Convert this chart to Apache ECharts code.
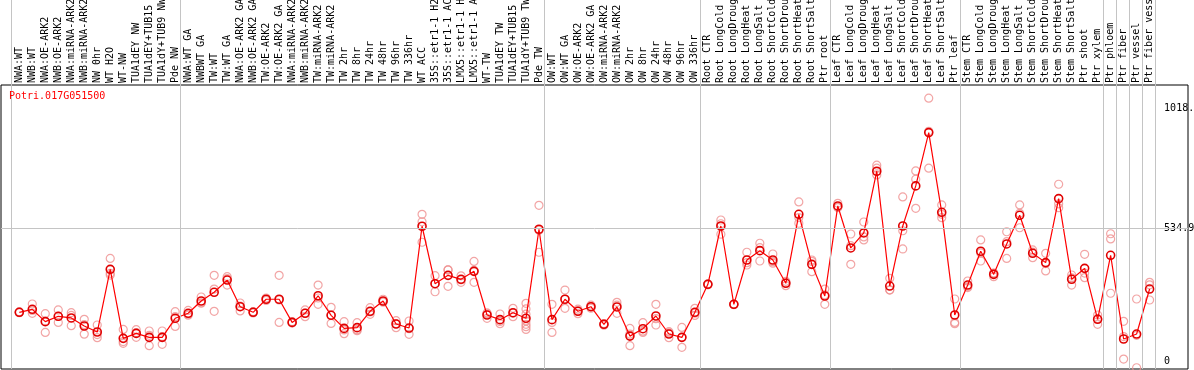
<!DOCTYPE html>
<html><head><meta charset="utf-8">
<script src="https://cdn.jsdelivr.net/npm/echarts@6/dist/echarts.min.js"></script>
<style>html,body{margin:0;padding:0;background:#fff}#c{width:1194px;height:370px}</style>
</head><body><div id="c"></div><script>
const chartTitle = 'Potri.017G051500';
const categories = [
 'NWA:WT','NWB:WT','NWA:OE-ARK2','NWB:OE-ARK2','NWA:miRNA-ARK2','NWB:miRNA-ARK2','NW 0hr','WT H2O','WT-NW','TUA1dEY NW','TUA1dEY+TUB15 NW','TUA1dY+TUB9 NW','Pde NW',
 'NWA:WT GA','NWBWT GA','TW:WT','TW:WT GA','NWA:OE-ARK2 GA','NWB:OE-ARK2 GA','TW:OE-ARK2','TW:OE-ARK2 GA','NWA:miRNA-ARK2','NWB:miRNA-ARK2','TW:miRNA-ARK2','TW:miRNA-ARK2',
 'TW 2hr','TW 8hr','TW 24hr','TW 48hr','TW 96hr','TW 336hr','WT ACC','35S::etr1-1 H2O','35S::etr1-1 ACC','LMX5::etr1-1 H2O','LMX5::etr1-1 ACC','WT-TW','TUA1dEY TW','TUA1dEY+TUB15 TW','TUA1dY+TUB9 TW','Pde TW',
 'OW:WT','OW:WT GA','OW:OE-ARK2','OW:OE-ARK2 GA','OW:miRNA-ARK2','OW:miRNA-ARK2','OW 2hr','OW 8hr','OW 24hr','OW 48hr','OW 96hr','OW 336hr',
 'Root CTR','Root LongCold','Root LongDrought','Root LongHeat','Root LongSalt','Root ShortCold','Root ShortDrought','Root ShortHeat','Root ShortSalt','Ptr root',
 'Leaf CTR','Leaf LongCold','Leaf LongDrought','Leaf LongHeat','Leaf LongSalt','Leaf ShortCold','Leaf ShortDrought','Leaf ShortHeat','Leaf ShortSalt','Ptr leaf',
 'Stem CTR','Stem LongCold','Stem LongDrought','Stem LongHeat','Stem LongSalt','Stem ShortCold','Stem ShortDrought','Stem ShortHeat','Stem ShortSalt','Ptr shoot','Ptr xylem',
 'Ptr phloem','Ptr fiber','Ptr vessel','Ptr fiber vessel'
];
const meanValues = [
 197.6,209.6,160,181.5,175,142.6,118.5,370,93,113,97,97,173.5,
 193.6,243,278,327,220,197.6,250,250,157,193.6,264,185.5,
 133,136,201.6,243,150.6,134.5,543,312.5,346,330,362,186.7,168,196,173.5,531,
 168,250,201.6,220,149.4,219,102,131.8,182.7,110.4,97,197.6,
 310,544,229.7,407.6,445,407.6,314,591,390,263,
 624.5,455.8,516,763.8,303,544,705,919,599,186.7,
 307,442.6,350,472,587,434.5,397,654,330,374,169.5,
 426.5,90.4,110.4,291
];
const replicateValues = [
 [196,198,199],[231,193.6,205],[192,117,162],[207,157,181],[196,144,185],[169.5,110,148],[146.6,95.6,108],[414,347,354],[129,73,80],[128,97,116],[122.5,63.5,105],[122.5,69,100],[200,141,180],
 [205,190,186],[259,236,234],[346,291,201.6],[340.6,307,333],[203,235,222],[200,195,198],[255,245,250],[346,157,247],[160,155,156],[207,180,194],[307,229.7,255],[217.6,153,186],
 [160,112,127],[156,124,128],[216,189.6,199],[250,238,241],[164,136,152],[162.6,109,132],[591,561,478.7],[344.6,280,313],[367.5,302,368],[344,318,328],[402,318,366],[173.5,195,191],[190.8,151.8,161],[213.6,180,194],[233.7,211,190,149.4,140,129,163],[627,438.6,527],
 [229.7,117,157],[287,213.6,250],[210,192,203],[226,214,220],[152,146,150],[237.7,193.6,226],[133,63.5,110],[156,117,122],[229.7,146.6,172],[120,95.6,115],[137,57,97],[213.6,185,194],
 [312,308,310],[568,511,553],[231,228,230],[438.6,387.5,397],[474.7,403.6,457],[431.7,395,401],[304.4,322,316],[640.6,555,578],[407.6,360.6,402],[291,229.7,268],
 [635,618,620],[512,390,465],[560,488,500],[788,776,749],[334,288,287],[660.6,525,451.8],[765,731.7,615],[1057,776,924],[628.5,577.5,591],[251,151.8,157],
 [323.3,297,301],[488,403.6,436],[340.6,355,354],[521,414,481],[628.5,537,595],[447.8,417,439],[434.5,363.5,393],[711.6,617.7,633],[347.4,307,336],[430.5,336.5,355],[186.7,149.4,172],
 [513,492,274],[161.4,10,100],[251,-25,105],[318,247,308]
];
const yTickValues = [0, 534.9, 1018];
const yTickLabels = ['0', '534.9', '1018.'];
const groupBoundaries = [0, 13, 41, 53, 63, 73, 84, 85, 86, 87, 88];
const gridLineValue = 534.9;
const yMin = -30, yMax = 1110;

const FONT = 'DejaVu Sans Mono';
const repData = [];
replicateValues.forEach((arr, i) => arr.forEach(v => repData.push([i, v])));

const chart = echarts.init(document.getElementById('c'), null, {renderer: 'canvas'});
chart.setOption({
  animation: false,
  backgroundColor: '#fff',
  title: {text: chartTitle, left: 4, top: 86, textStyle: {color: '#ff0000', fontSize: 10, fontFamily: FONT, fontWeight: 'normal'}},
  grid: [
    {left: 1, top: 85, width: 1187, height: 284, show: true, borderColor: '#000', borderWidth: 1, backgroundColor: 'transparent', outerBoundsMode: 'none', containLabel: false},
    {left: 12.8, top: 85, width: 1143.3, height: 284, outerBoundsMode: 'none', containLabel: false},
    {left: 10.9, top: 0, width: 1144.4, height: 369, outerBoundsMode: 'none', containLabel: false}
  ],
  xAxis: [
    {gridIndex: 0, type: 'value', min: 0, max: 1, show: false},
    {gridIndex: 1, type: 'category', position: 'top', data: categories, boundaryGap: true,
     axisLine: {show: false}, axisTick: {show: false}, splitLine: {show: false},
     axisLabel: {rotate: 90, interval: 0, margin: 2, fontSize: 10, fontFamily: FONT, color: '#000', hideOverlap: false}},
    {gridIndex: 2, type: 'value', min: 0, max: 88, show: false}
  ],
  yAxis: [
    {gridIndex: 0, type: 'value', min: yMin, max: yMax, show: false},
    {gridIndex: 1, type: 'value', min: yMin, max: yMax, position: 'right',
     axisLine: {show: false}, axisTick: {show: false}, splitLine: {show: false},
     axisLabel: {customValues: yTickValues, margin: 8, fontSize: 10, fontFamily: FONT, color: '#000',
       formatter: v => { const i = yTickValues.indexOf(v); return i >= 0 ? yTickLabels[i] : ''; }}},
    {gridIndex: 2, type: 'value', min: 0, max: 1, show: false}
  ],
  series: [
    {type: 'line', xAxisIndex: 2, yAxisIndex: 2, data: [], z: 1,
     markLine: {silent: true, symbol: ['none', 'none'], label: {show: false},
       lineStyle: {color: '#c4c4c4', width: 1, type: 'solid'},
       data: groupBoundaries.map(v => ({xAxis: v}))}},
    {type: 'line', xAxisIndex: 0, yAxisIndex: 0, data: [], z: 1,
     markLine: {silent: true, symbol: ['none', 'none'], label: {show: false},
       lineStyle: {color: '#c4c4c4', width: 1, type: 'solid'},
       data: [{yAxis: gridLineValue}]}},
    {type: 'scatter', xAxisIndex: 1, yAxisIndex: 1, data: repData, z: 3, clip: false,
     symbol: 'circle', symbolSize: 8,
     itemStyle: {color: 'rgba(255,255,255,0)', borderColor: '#ef8f8f', borderWidth: 1.2}},
    {type: 'line', xAxisIndex: 1, yAxisIndex: 1, data: meanValues, z: 4,
     symbol: 'circle', symbolSize: 8, showAllSymbol: true,
     lineStyle: {color: '#ff0000', width: 1.2},
     itemStyle: {color: 'rgba(255,255,255,0)', borderColor: '#e00000', borderWidth: 1.6}}
  ]
});
</script></body></html>
